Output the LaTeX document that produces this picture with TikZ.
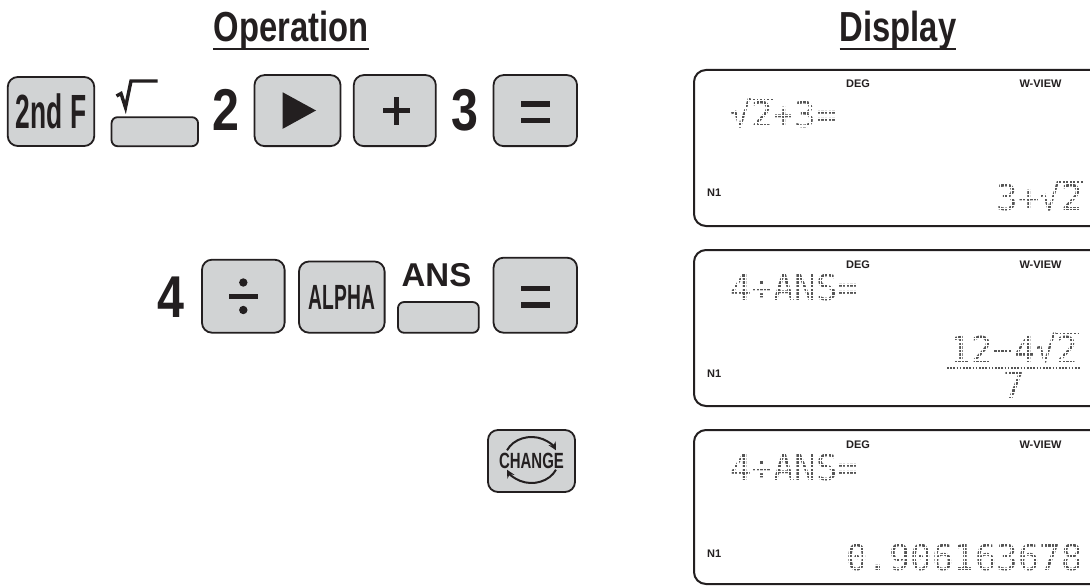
\documentclass[tikz,border=0pt]{standalone}
\usepackage{fontspec}
\setmainfont{Liberation Sans}
\newfontfamily\condH[FakeStretch=0.78]{Liberation Sans}
\newfontfamily\condD[FakeStretch=0.82]{Liberation Sans}
\newfontfamily\condB[FakeStretch=0.55]{Liberation Sans}
\newfontfamily\condC[FakeStretch=0.68]{Liberation Sans}
\newfontfamily\dmfont{DejaVu Sans Mono}
\usetikzlibrary{arrows.meta}
\definecolor{keygray}{HTML}{D1D3D4}
\definecolor{ink}{HTML}{231F20}
\definecolor{dotgray}{HTML}{555555}
\newcommand{\lcdgrid}[1]{%
  \begin{scope}
    \clip ([xshift=-2pt,yshift=-2pt]#1.south west) rectangle ([xshift=2pt,yshift=2pt]#1.north east);
    \draw[white, line width=1.15pt, step=3.6pt] ([xshift=-4pt,yshift=-4pt]#1.south west) grid ([xshift=4pt,yshift=4pt]#1.north east);
  \end{scope}}
\begin{document}
\begin{tikzpicture}[x=1pt,y=-1pt,
  key/.style={draw=ink, fill=keygray, line width=1.8pt, rounded corners=10pt, inner sep=0pt},
  flatkey/.style={draw=ink, fill=keygray, line width=1.8pt, rounded corners=6pt, inner sep=0pt},
  hdr/.style={font=\condH\bfseries\fontsize{42}{42}\selectfont, inner sep=0pt, anchor=base, text=ink},
  big/.style={font=\condD\bfseries\fontsize{59}{59}\selectfont, inner sep=0pt, anchor=base, text=ink},
  lcd/.style={font=\dmfont\fontsize{35.7}{36}\selectfont, text=dotgray, inner sep=0pt},
  lcdbar/.style={draw=dotgray, line width=2pt, dash pattern=on 2pt off 1.6pt},
  tag/.style={font=\bfseries\fontsize{11}{12}\selectfont, inner sep=0pt, anchor=base, text=ink},
  screen/.style={draw=ink, line width=2pt, rounded corners=12pt},
  ul/.style={draw=ink, line width=2.2pt},
  arr/.style={draw=ink, line width=2pt, -{Stealth[length=8pt,width=8pt]}},
]
\useasboundingbox (0,0) rectangle (1090,586);
\clip (0,0) rectangle (1090,586);
\fill[white] (0,0) rectangle (1090,586);

% headers
\node[hdr] (hop) at (291,42) {Operation};
\node[hdr] (hdisp) at (898,42) {Display};
\draw[ul] ([yshift=-7pt]hop.base west) -- ([yshift=-7pt]hop.base east);
\draw[ul] ([yshift=-7pt]hdisp.base west) -- ([yshift=-7pt]hdisp.base east);

% ---- row 1
\node[key, minimum width=86.5pt, minimum height=69pt, font=\condB\bfseries\fontsize{48}{48}\selectfont, text=ink] (k2ndf) at (51,111.5) {2nd F};
\node[flatkey, minimum width=86.5pt, minimum height=29pt] (ksqrt) at (154.8,131.7) {};
\draw[ink, line width=3.4pt, line join=miter] (116.5,96) -- (121,93.5) -- (125.5,107.5) -- (131,81) -- (157.7,81);
\node[big] (d2) at (226,130.8) {2};
\node[key, minimum width=86pt, minimum height=71pt] (kright) at (297.5,110.6) {};
\fill[ink] (282.7,92.3) -- (282.7,128.8) -- (316,110.5) -- cycle;
\node[key, minimum width=82pt, minimum height=71pt] (kplus) at (394.8,110.6) {};
\fill[ink] (382.7,107.9) rectangle (409.6,113);
\fill[ink] (393.5,96.5) rectangle (398.6,124.5);
\node[big] (d3) at (464.5,130.8) {3};
\node[key, minimum width=83.5pt, minimum height=71pt] (keq1) at (535.3,110.6) {};
\fill[ink] (521,101) rectangle (550,106.5);
\fill[ink] (521,117.5) rectangle (550,123);

% ---- row 2
\node[big] (d4) at (171,317.3) {4};
\node[key, minimum width=82.6pt, minimum height=73pt] (kdiv) at (243.3,296.2) {};
\fill[ink] (228.8,293.5) rectangle (257.7,298.5);
\fill[ink] (243.3,282.5) circle (4.2);
\fill[ink] (243.3,310) circle (4.2);
\node[key, minimum width=85.6pt, minimum height=71.2pt, font=\condB\bfseries\fontsize{35}{35}\selectfont, text=ink] (kalpha) at (341.8,297.1) {ALPHA};
\node[font=\bfseries\fontsize{33}{33}\selectfont, inner sep=0pt, anchor=base, text=ink] (lans) at (436.5,286.5) {ANS};
\node[flatkey, minimum width=80.8pt, minimum height=30.7pt] (kans) at (438.4,317.4) {};
\node[key, minimum width=83.5pt, minimum height=75pt] (keq2) at (535.3,295.2) {};
\fill[ink] (521,285.7) rectangle (550,291.2);
\fill[ink] (521,302.3) rectangle (550,307.8);

% ---- row 3
\node[key, minimum width=87pt, minimum height=62pt, font=\condC\bfseries\fontsize{22}{22}\selectfont, text=ink] (kchange) at (531.5,461) {CHANGE};
\draw[arr] (531.5,460) ++(205:27 and 23) arc[start angle=205, end angle=335, x radius=27, y radius=23];
\draw[arr] (531.5,460) ++(25:27 and 23) arc[start angle=25, end angle=155, x radius=27, y radius=23];

% ---- displays
\draw[screen] (1110,70) -- (694,70) -- (694,226) -- (1110,226);
\draw[screen] (1110,250) -- (694,250) -- (694,406) -- (1110,406);
\draw[screen] (1110,430) -- (694,430) -- (694,584) -- (1110,584);

% display 1
\node[tag] (deg1) at (858,88) {DEG};
\node[tag] (wv1) at (1040.5,88) {W-VIEW};
\node[tag, anchor=base west] (n11) at (707,196) {N1};
\node[lcd, anchor=base west] (e1) at (730,128) {√2+3=};
\draw[lcdbar] (749,100) -- (774,100);
\lcdgrid{e1}
\node[lcd, anchor=base east] (r1) at (1083,210) {3+√2};
\draw[lcdbar] (1059,182) -- (1083,182);
\lcdgrid{r1}

% display 2
\node[tag] (deg2) at (858,268) {DEG};
\node[tag] (wv2) at (1040.5,268) {W-VIEW};
\node[tag, anchor=base west] (n12) at (707,377) {N1};
\node[lcd, anchor=base west] (e2) at (730,300) {4÷ANS=};
\lcdgrid{e2}
\node[lcd, anchor=base] (num2) at (1014,362) {12−4√2};
\draw[lcdbar] (1056,334) -- (1079,334);
\lcdgrid{num2}
\draw[lcdbar, line width=1.6pt, dash pattern=on 1.6pt off 1.6pt] (947,368) -- (1080,368);
\node[lcd, anchor=base] (den2) at (1014,398) {7};
\lcdgrid{den2}

% display 3
\node[tag] (deg3) at (858,448) {DEG};
\node[tag] (wv3) at (1040.5,448) {W-VIEW};
\node[tag, anchor=base west] (n13) at (707,557) {N1};
\node[lcd, anchor=base west] (e3) at (730,480) {4÷ANS=};
\lcdgrid{e3}
\node[lcd, anchor=base east] (r3) at (1083,570) {0.906163678};
\lcdgrid{r3}
\end{tikzpicture}
\end{document}
